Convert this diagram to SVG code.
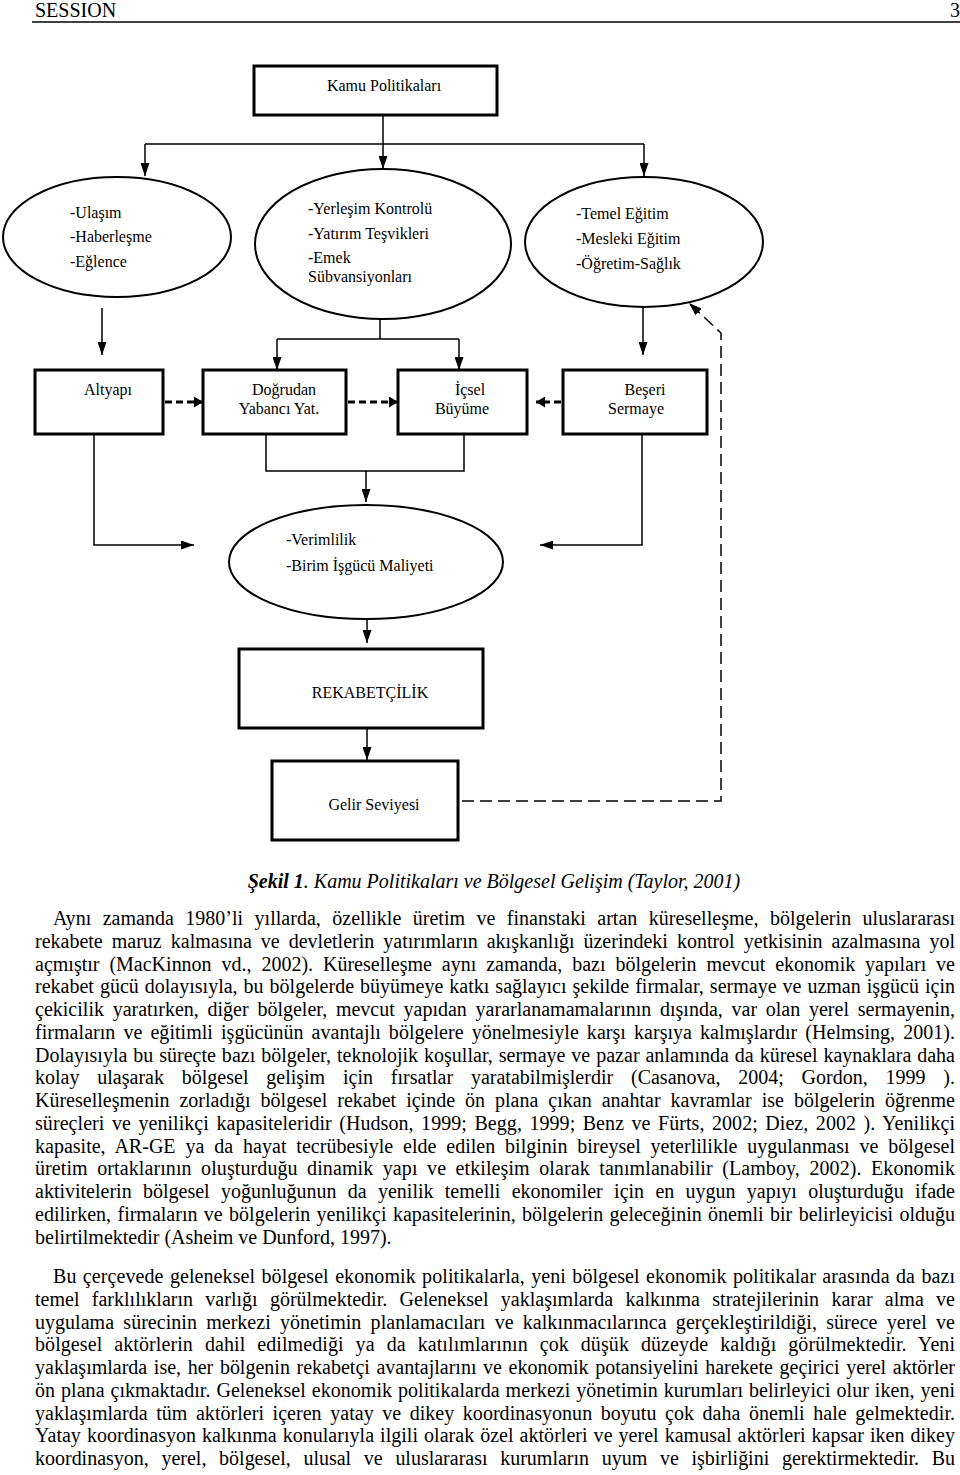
<svg xmlns="http://www.w3.org/2000/svg" width="960" height="1475" viewBox="0 0 960 1475">
<style>
text{font-family:"Liberation Serif","Times New Roman",serif;fill:#000}
.hd{font-size:20px}
.t{font-size:16px}
.p{font-size:20px}
.cap{font-size:20px;font-style:italic}
.box{fill:#fff;stroke:#000;stroke-width:3}
.ell{fill:#fff;stroke:#000;stroke-width:2}
.ln{fill:none;stroke:#000;stroke-width:1.5}
.da{fill:none;stroke:#000;stroke-width:3;stroke-dasharray:7 4}
.dl{fill:none;stroke:#000;stroke-width:1.5;stroke-dasharray:12 6}
</style>
<defs>
<marker id="ah" viewBox="0 0 10 10" refX="10" refY="5" markerWidth="13" markerHeight="9" markerUnits="userSpaceOnUse" orient="auto" preserveAspectRatio="none"><path d="M0,0L10,5L0,10z" fill="#000"/></marker>
<marker id="ad" viewBox="0 0 10 10" refX="10" refY="5" markerWidth="9" markerHeight="11" markerUnits="userSpaceOnUse" orient="auto" preserveAspectRatio="none"><path d="M0,0L10,5L0,10z" fill="#000"/></marker>
</defs>

<g id="header">
<text class="hd" x="35" y="17">SESSION</text>
<text class="hd" x="950" y="17">3</text>
<line x1="32" y1="22" x2="960" y2="22" stroke="#000" stroke-width="1.5"/>
</g>

<g id="connectors">
<path class="ln" d="M383,115V144M145,144H644"/>
<path class="ln" d="M145,144V176" marker-end="url(#ah)"/>
<path class="ln" d="M383,144V169" marker-end="url(#ah)"/>
<path class="ln" d="M644,144V176" marker-end="url(#ah)"/>
<path class="ln" d="M102,308V355" marker-end="url(#ah)"/>
<path class="ln" d="M380,318V339M277,339H459"/>
<path class="ln" d="M277,339V370" marker-end="url(#ah)"/>
<path class="ln" d="M459,339V370" marker-end="url(#ah)"/>
<path class="ln" d="M643,308V355" marker-end="url(#ah)"/>
<path class="da" d="M165,402H203" marker-end="url(#ad)"/>
<path class="da" d="M348,402H398" marker-end="url(#ad)"/>
<path class="da" d="M561,402H536" marker-end="url(#ad)"/>
<path class="ln" d="M94,434V545H194" marker-end="url(#ah)"/>
<path class="ln" d="M266,434V471H464V434"/>
<path class="ln" d="M366,471V502" marker-end="url(#ah)"/>
<path class="ln" d="M642,434V545H540" marker-end="url(#ah)"/>
<path class="ln" d="M367,619V643" marker-end="url(#ah)"/>
<path class="ln" d="M367,728V760" marker-end="url(#ah)"/>
<path class="dl" d="M462,801H721V333L689,303" marker-end="url(#ah)"/>
</g>

<g id="kamu">
<rect class="box" x="254" y="66" width="243" height="49"/>
<text class="t" x="384" y="91" text-anchor="middle">Kamu Politikaları</text>
</g>

<g id="altyapi-circle">
<ellipse class="ell" cx="117" cy="237" rx="114" ry="60"/>
<text class="t" x="70" y="218">-Ulaşım</text>
<text class="t" x="70" y="242">-Haberleşme</text>
<text class="t" x="70" y="267">-Eğlence</text>
</g>

<g id="yatirim-circle">
<ellipse class="ell" cx="383" cy="244" rx="128" ry="75"/>
<text class="t" x="308" y="214">-Yerleşim Kontrolü</text>
<text class="t" x="308" y="239">-Yatırım Teşvikleri</text>
<text class="t" x="308" y="263">-Emek</text>
<text class="t" x="308" y="282">Sübvansiyonları</text>
</g>

<g id="egitim-circle">
<ellipse class="ell" cx="644" cy="242" rx="119" ry="65"/>
<text class="t" x="576" y="219">-Temel Eğitim</text>
<text class="t" x="576" y="244">-Mesleki Eğitim</text>
<text class="t" x="576" y="269">-Öğretim-Sağlık</text>
</g>

<g id="altyapi">
<rect class="box" x="35" y="370" width="128" height="64"/>
<text class="t" x="108" y="395" text-anchor="middle">Altyapı</text>
</g>
<g id="dogrudan">
<rect class="box" x="203" y="370" width="143" height="64"/>
<text class="t" x="284" y="395" text-anchor="middle">Doğrudan</text>
<text class="t" x="279" y="414" text-anchor="middle">Yabancı Yat.</text>
</g>
<g id="icsel">
<rect class="box" x="398" y="370" width="129" height="64"/>
<text class="t" x="470" y="395" text-anchor="middle">İçsel</text>
<text class="t" x="462" y="414" text-anchor="middle">Büyüme</text>
</g>
<g id="beseri">
<rect class="box" x="563" y="370" width="144" height="64"/>
<text class="t" x="645" y="395" text-anchor="middle">Beşeri</text>
<text class="t" x="636" y="414" text-anchor="middle">Sermaye</text>
</g>

<g id="verimlilik">
<ellipse class="ell" cx="366" cy="562" rx="137" ry="57"/>
<text class="t" x="286" y="545">-Verimlilik</text>
<text class="t" x="286" y="571">-Birim İşgücü Maliyeti</text>
</g>

<g id="rekabet">
<rect class="box" x="239" y="649" width="244" height="79"/>
<text class="t" x="370" y="698" text-anchor="middle">REKABETÇİLİK</text>
</g>

<g id="gelir">
<rect class="box" x="272" y="761" width="186" height="79"/>
<text class="t" x="374" y="810" text-anchor="middle">Gelir Seviyesi</text>
</g>

<g id="caption">
<text class="cap" x="494" y="888" text-anchor="middle"><tspan font-weight="bold">Şekil 1</tspan>. Kamu Politikaları ve Bölgesel Gelişim (Taylor, 2001)</text>
</g>

<g id="body">
<text class="p" x="53" y="925" textLength="902" lengthAdjust="spacing" word-spacing="6.4">Aynı zamanda 1980’li yıllarda, özellikle üretim ve finanstaki artan küreselleşme, bölgelerin uluslararası</text>
<text class="p" x="35" y="947.75" textLength="920" lengthAdjust="spacing" word-spacing="4">rekabete maruz kalmasına ve devletlerin yatırımların akışkanlığı üzerindeki kontrol yetkisinin azalmasına yol</text>
<text class="p" x="35" y="970.5" textLength="920" lengthAdjust="spacing" word-spacing="4.9">açmıştır (MacKinnon vd., 2002). Küreselleşme aynı zamanda, bazı bölgelerin mevcut ekonomik yapıları ve</text>
<text class="p" x="35" y="993.25" textLength="920" lengthAdjust="spacing" word-spacing="1">rekabet gücü dolayısıyla, bu bölgelerde büyümeye katkı sağlayıcı şekilde firmalar, sermaye ve uzman işgücü için</text>
<text class="p" x="35" y="1016" textLength="920" lengthAdjust="spacing" word-spacing="3.7">çekicilik yaratırken, diğer bölgeler, mevcut yapıdan yararlanamamalarının dışında, var olan yerel sermayenin,</text>
<text class="p" x="35" y="1038.75" textLength="920" lengthAdjust="spacing" word-spacing="3">firmaların ve eğitimli işgücünün avantajlı bölgelere yönelmesiyle karşı karşıya kalmışlardır (Helmsing, 2001).</text>
<text class="p" x="35" y="1061.5" textLength="920" lengthAdjust="spacing" word-spacing="0.9">Dolayısıyla bu süreçte bazı bölgeler, teknolojik koşullar, sermaye ve pazar anlamında da küresel kaynaklara daha</text>
<text class="p" x="35" y="1084.25" textLength="920" lengthAdjust="spacing" word-spacing="12.8">kolay ulaşarak bölgesel gelişim için fırsatlar yaratabilmişlerdir (Casanova, 2004; Gordon, 1999 ).</text>
<text class="p" x="35" y="1107" textLength="920" lengthAdjust="spacing" word-spacing="5">Küreselleşmenin zorladığı bölgesel rekabet içinde ön plana çıkan anahtar kavramlar ise bölgelerin öğrenme</text>
<text class="p" x="35" y="1129.75" textLength="920" lengthAdjust="spacing" word-spacing="2.4">süreçleri ve yenilikçi kapasiteleridir (Hudson, 1999; Begg, 1999; Benz ve Fürts, 2002; Diez, 2002 ). Yenilikçi</text>
<text class="p" x="35" y="1152.5" textLength="920" lengthAdjust="spacing" word-spacing="4.9">kapasite, AR-GE ya da hayat tecrübesiyle elde edilen bilginin bireysel yeterlilikle uygulanması ve bölgesel</text>
<text class="p" x="35" y="1175.25" textLength="920" lengthAdjust="spacing" word-spacing="4.4">üretim ortaklarının oluşturduğu dinamik yapı ve etkileşim olarak tanımlanabilir (Lamboy, 2002). Ekonomik</text>
<text class="p" x="35" y="1198" textLength="920" lengthAdjust="spacing" word-spacing="6.3">aktivitelerin bölgesel yoğunluğunun da yenilik temelli ekonomiler için en uygun yapıyı oluşturduğu ifade</text>
<text class="p" x="35" y="1220.75" textLength="920" lengthAdjust="spacing" word-spacing="1.4">edilirken, firmaların ve bölgelerin yenilikçi kapasitelerinin, bölgelerin geleceğinin önemli bir belirleyicisi olduğu</text>
<text class="p" x="35" y="1243.5">belirtilmektedir (Asheim ve Dunford, 1997).</text>
<text class="p" x="53" y="1283" textLength="902" lengthAdjust="spacing" word-spacing="1.3">Bu çerçevede geleneksel bölgesel ekonomik politikalarla, yeni bölgesel ekonomik politikalar arasında da bazı</text>
<text class="p" x="35" y="1305.75" textLength="920" lengthAdjust="spacing" word-spacing="7.3">temel farklılıkların varlığı görülmektedir. Geleneksel yaklaşımlarda kalkınma stratejilerinin karar alma ve</text>
<text class="p" x="35" y="1328.5" textLength="920" lengthAdjust="spacing" word-spacing="4.2">uygulama sürecinin merkezi yönetimin planlamacıları ve kalkınmacılarınca gerçekleştirildiği, sürece yerel ve</text>
<text class="p" x="35" y="1351.25" textLength="920" lengthAdjust="spacing" word-spacing="6.9">bölgesel aktörlerin dahil edilmediği ya da katılımlarının çok düşük düzeyde kaldığı görülmektedir. Yeni</text>
<text class="p" x="35" y="1374" textLength="920" lengthAdjust="spacing" word-spacing="1.6">yaklaşımlarda ise, her bölgenin rekabetçi avantajlarını ve ekonomik potansiyelini harekete geçirici yerel aktörler</text>
<text class="p" x="35" y="1396.75" textLength="920" lengthAdjust="spacing" word-spacing="0.9">ön plana çıkmaktadır. Geleneksel ekonomik politikalarda merkezi yönetimin kurumları belirleyici olur iken, yeni</text>
<text class="p" x="35" y="1419.5" textLength="920" lengthAdjust="spacing" word-spacing="3.5">yaklaşımlarda tüm aktörleri içeren yatay ve dikey koordinasyonun boyutu çok daha önemli hale gelmektedir.</text>
<text class="p" x="35" y="1442.25" textLength="920" lengthAdjust="spacing" word-spacing="1">Yatay koordinasyon kalkınma konularıyla ilgili olarak özel aktörleri ve yerel kamusal aktörleri kapsar iken dikey</text>
<text class="p" x="35" y="1465" textLength="920" lengthAdjust="spacing" word-spacing="7.7">koordinasyon, yerel, bölgesel, ulusal ve uluslararası kurumların uyum ve işbirliğini gerektirmektedir. Bu</text>
</g>
</svg>
